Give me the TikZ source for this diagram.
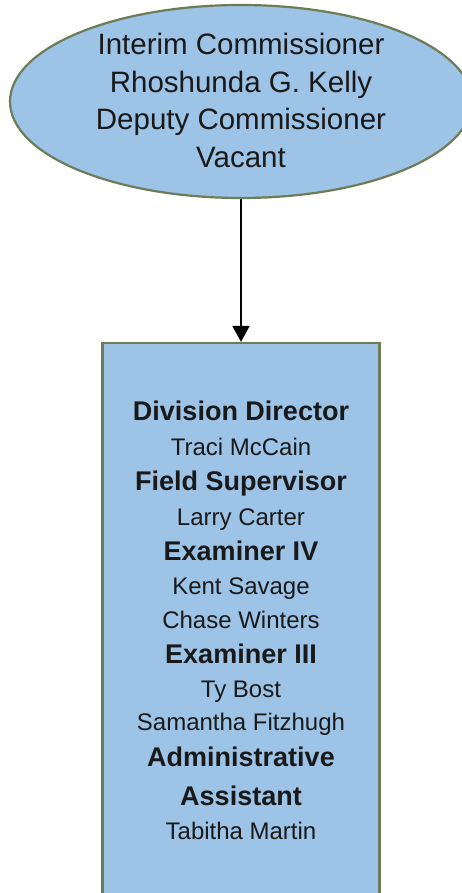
\documentclass[tikz,border=0pt]{standalone}
\usepackage{fontspec}
\setmainfont{Liberation Sans}
\usetikzlibrary{shapes.geometric,arrows.meta}
\definecolor{boxfill}{RGB}{157,195,230}
\definecolor{boxline}{RGB}{108,124,86}
\definecolor{inktext}{RGB}{25,25,25}
\tikzset{
  x=1pt, y=-1pt,
  unit/.style={fill=boxfill, draw=boxline, line width=2.2pt, inner sep=0pt},
  bossline/.style={anchor=base, inner sep=0pt, text=inktext, font=\fontsize{29.5}{36}\selectfont},
  rolehead/.style={anchor=base, inner sep=0pt, text=inktext, font=\fontsize{27}{33}\selectfont\bfseries},
  person/.style={anchor=base, inner sep=0pt, text=inktext, font=\fontsize{24}{29}\selectfont},
  link/.style={line width=1.8pt, -{Triangle[length=16pt,width=17pt]}}
}
\begin{document}
\begin{tikzpicture}
\useasboundingbox (0,0) rectangle (462,893);
\clip (0,0) rectangle (462,893);
\fill[white] (0,0) rectangle (462,893);

% commissioner's office
\node[unit, ellipse, minimum width=462pt, minimum height=193pt] (boss) at (241,101.5) {};
\node[bossline] (l1) at (241,55) {Interim Commissioner};
\node[bossline] (l2) at (241,92.5) {Rhoshunda G. Kelly};
\node[bossline] (l3) at (241,130) {Deputy Commissioner};
\node[bossline] (l4) at (241,168) {Vacant};

% division staff
\node[unit, rectangle, minimum width=277pt, minimum height=650pt] (div) at (241,668) {};
\node[rolehead] (h1) at (241,420) {Division Director};
\node[person]   (p1) at (241,455) {Traci McCain};
\node[rolehead] (h2) at (241,490) {Field Supervisor};
\node[person]   (p2) at (241,525) {Larry Carter};
\node[rolehead] (h3) at (241,560) {Examiner IV};
\node[person]   (p3) at (241,594) {Kent Savage};
\node[person]   (p4) at (241,628) {Chase Winters};
\node[rolehead] (h4) at (241,663) {Examiner III};
\node[person]   (p5) at (241,697) {Ty Bost};
\node[person]   (p6) at (241,730) {Samantha Fitzhugh};
\node[rolehead] (h5) at (241,766) {Administrative};
\node[rolehead] (h6) at (241,805) {Assistant};
\node[person]   (p7) at (241,839) {Tabitha Martin};

\draw[link] (boss.south) -- (div.north);
\end{tikzpicture}
\end{document}
